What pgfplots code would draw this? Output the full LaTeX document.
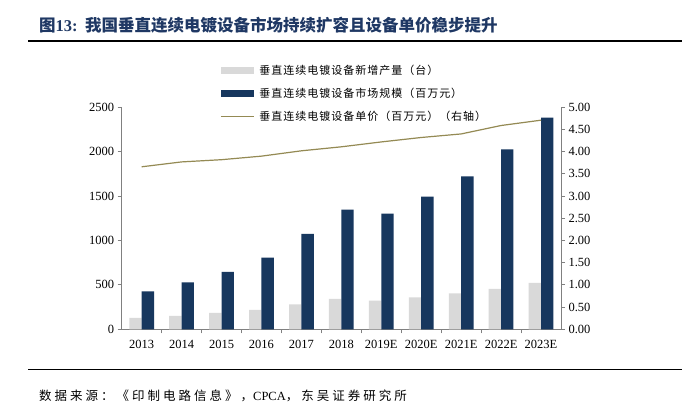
\documentclass[border=0pt]{standalone}
\usepackage{fontspec}
\setmainfont{Liberation Serif}
\newfontfamily\cjk{Noto Sans CJK SC}
\newfontfamily\cjkl[LetterSpace=9]{Noto Sans CJK SC}
\newfontfamily\cjks[LetterSpace=24]{Noto Sans CJK SC}
\usepackage{pgfplots}
\usepackage{pgfplotstable}
\pgfplotsset{compat=1.18}
\definecolor{navy}{HTML}{17375E}
\definecolor{lgray}{HTML}{D9D9D9}
\definecolor{olive}{HTML}{948A54}
\definecolor{titleblue}{HTML}{1F3864}
\definecolor{axgray}{HTML}{808080}
\pgfplotsset{
  barlegend/.style={legend image code/.code={\fill[##1] (0bp,-3.5bp) rectangle (33bp,3.5bp);}},
  linelegend/.style={legend image code/.code={\draw[##1] (0bp,0bp) -- (33bp,0bp);}},
}
\newcommand{\lgf}{\fontsize{11bp}{13bp}\cjkl}
\pgfplotstableread{
x units market price
0  128  428 3.66
1  150  529 3.77
2  184  646 3.82
3  218  807 3.90
4  282 1074 4.02
5  342 1348 4.11
6  323 1303 4.22
7  360 1494 4.32
8  405 1723 4.40
9  454 2027 4.59
10 522 2384 4.71
}\data
\begin{document}
\begin{tikzpicture}
\useasboundingbox[fill=white] (0,0) rectangle (682bp,409bp);
% title and rules
\node[anchor=west, text=titleblue, font=\bfseries\fontsize{16.5bp}{18bp}\selectfont, inner sep=0pt] at (39bp,384bp)
  {{\cjk 图}13:\hspace{0.45em}{\cjk 我国垂直连续电镀设备市场持续扩容且设备单价稳步提升}};
\draw[line width=1.6bp, black] (28bp,368bp) -- (682bp,368bp);
\draw[line width=1.4bp, black] (28bp,39.3bp) -- (682bp,39.3bp);
\node[anchor=west, font=\fontsize{12.5bp}{14bp}\selectfont, inner sep=0pt] at (39bp,13bp)
  {{\cjks 数据来源：《印制电路信息》，}CPCA{\cjks ，东吴证券研究所}};
\begin{axis}[
  at={(121.7bp,79.7bp)}, anchor=south west, scale only axis,
  width=439.3bp, height=222bp,
  xmin=-0.5, xmax=10.5, ymin=0, ymax=2500,
  ytick={0,500,1000,1500,2000,2500},
  xtick={0,...,10},
  xticklabels={2013,2014,2015,2016,2017,2018,2019E,2020E,2021E,2022E,2023E},
  minor xtick={0.5,1.5,...,9.5},
  axis y line*=left, axis x line*=bottom,
  axis line style={axgray, line width=0.8bp},
  tick style={axgray, line width=0.8bp},
  major x tick style={draw=none},
  tick align=outside,
  major tick length=4bp, minor tick length=4bp,
  ticklabel style={font=\fontsize{12.5bp}{14bp}\selectfont},
  xticklabel style={yshift=-3bp},
  /pgf/number format/assume math mode=true,
  /pgf/number format/1000 sep={},
  ybar, bar width=0.31,
  legend style={draw=none, fill=none, at={(0.2238,1.2167)}, anchor=north west,
    inner sep=0pt, column sep=5bp, row sep=0pt,
    nodes={inner sep=0pt, minimum height=23bp}},
  legend cell align=left,
]
\addplot[fill=lgray, draw=none, bar shift=-0.155, barlegend] table[x=x,y=units]{\data};
\addplot[fill=navy, draw=none, bar shift=0.155, barlegend] table[x=x,y=market]{\data};
\addlegendimage{olive, line width=1.2bp, linelegend}
\legend{{\lgf 垂直连续电镀设备新增产量（台）},{\lgf 垂直连续电镀设备市场规模（百万元）},{\lgf 垂直连续电镀设备单价（百万元）（右轴）}}
\end{axis}
\begin{axis}[
  at={(121.7bp,79.7bp)}, anchor=south west, scale only axis,
  width=439.3bp, height=222bp,
  xmin=-0.5, xmax=10.5, ymin=0, ymax=5,
  axis y line*=right, axis x line=none,
  axis line style={axgray, line width=0.8bp},
  tick style={axgray, line width=0.8bp},
  tick align=outside, major tick length=4bp,
  ytick={0,0.5,1,1.5,2,2.5,3,3.5,4,4.5,5},
  ticklabel style={font=\fontsize{12.5bp}{14bp}\selectfont},
  /pgf/number format/assume math mode=true,
  yticklabel style={/pgf/number format/.cd, fixed, fixed zerofill, precision=2},
]
\addplot[olive, line width=1.2bp] table[x=x,y=price]{\data};
\end{axis}
\end{tikzpicture}
\end{document}
